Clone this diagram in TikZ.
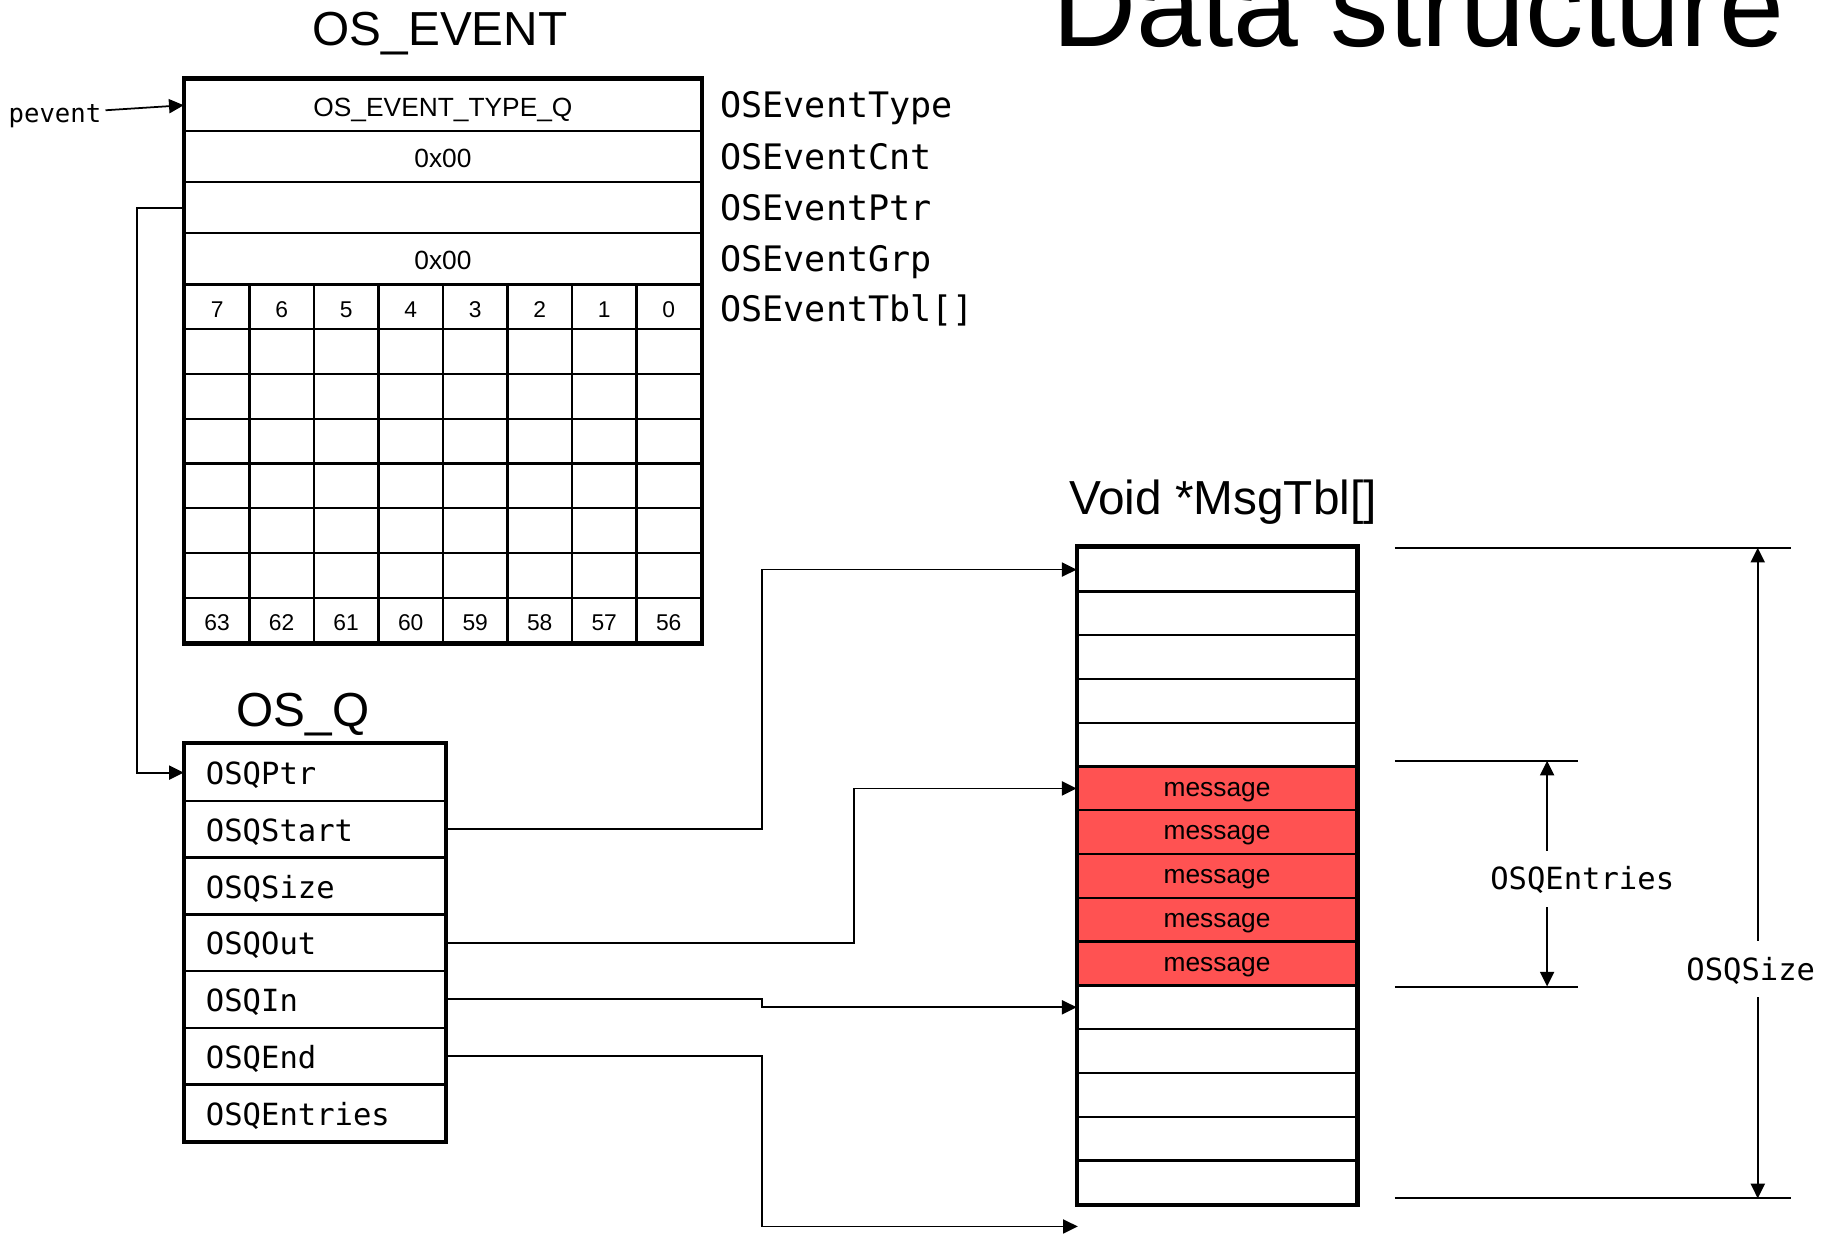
\documentclass[tikz,border=0pt]{standalone}
\usepackage{fontspec}
\setmainfont{Liberation Sans}
\newfontfamily\fieldfont{DejaVu Sans Mono}
\usetikzlibrary{arrows.meta}
\definecolor{msgred}{RGB}{255,82,82}
\tikzset{
	boxline/.style={line width=1.2pt},
	cellline/.style={line width=0.65pt},
	link/.style={line width=0.5pt, -{Triangle[length=4.2pt, width=4pt]}},
	dimline/.style={line width=0.6pt},
	dimarrow/.style={line width=0.6pt, -{Triangle[length=4.2pt, width=4pt]}},
	headline/.style={font=\fontsize{13.6}{16}\selectfont, inner sep=0pt, anchor=base},
	evrow/.style={draw, cellline, minimum width=147pt, minimum height=14.583pt, inner sep=0pt,
		text height=6.3pt, text depth=0pt, font=\fontsize{7.5}{9}\selectfont},
	bitcell/.style={draw, cellline, minimum width=18.375pt, minimum height=12.75pt, inner sep=0pt,
		text height=6pt, text depth=0pt, font=\fontsize{6.5}{8}\selectfont},
	qrow/.style={draw, cellline, minimum width=74pt, minimum height=16.143pt, inner xsep=6pt, inner ysep=0pt,
		text width=62pt, align=left, text height=7pt, text depth=0pt, font=\fieldfont\fontsize{8.7}{10}\selectfont},
	msgrow/.style={draw, cellline, minimum width=79.33pt, minimum height=12.467pt, inner sep=0pt,
		text height=5.4pt, text depth=1pt, font=\fontsize{7.5}{9}\selectfont},
	fieldname/.style={inner sep=0pt, anchor=base west, font=\fieldfont\fontsize{10}{12}\selectfont},
	dimlabel/.style={inner xsep=0pt, inner ysep=4.7pt, text height=6.3pt, text depth=0pt,
		font=\fieldfont\fontsize{8.7}{10}\selectfont}
}
\begin{document}
\begin{tikzpicture}[x=0.33333pt, y=-0.33333pt]
	\useasboundingbox (0,0) rectangle (1568,1054);
	\clip (0,0) rectangle (1568,1054);
	\node[font=\fontsize{33.2}{40}\selectfont, inner sep=0pt, anchor=base] (maintitle) at (1212,40) {Data structure};
	\node[headline] (etitle) at (376,39) {OS\_EVENT};
	\node[evrow] (etype) at (378.5,89.9) {OS\_EVENT\_TYPE\_Q};
	\node[evrow] (ecnt) at (378.5,133.6) {0x00};
	\node[evrow] (eptr) at (378.5,177.4) {};
	\node[evrow] (egrp) at (378.5,221.1) {0x00};
	\foreach \r in {1,...,6}
		\foreach \c in {0,...,7}
			\node[bitcell] (bit\r\c) at ({185.56+55.125*\c},{262.13+38.25*\r}) {};
	\foreach \c in {0,...,7} {
		\pgfmathtruncatemacro{\lo}{7-\c}
		\pgfmathtruncatemacro{\hi}{63-\c}
		\node[bitcell] (bit0\c) at ({185.56+55.125*\c},262.13) {\lo};
		\node[bitcell] (bit7\c) at ({185.56+55.125*\c},529.88) {\hi};
	}
	\draw[boxline] (etype.north west) rectangle (bit77.south east);
	\node[fieldname] (ntype) at (615,100.8) {OSEventType};
	\node[fieldname] (ncnt) at (615,144.5) {OSEventCnt};
	\node[fieldname] (nptr) at (615,188.3) {OSEventPtr};
	\node[fieldname] (ngrp) at (615,232) {OSEventGrp};
	\node[fieldname] (ntbl) at (615,274.5) {OSEventTbl[]};
	\node[inner sep=1pt, font=\fieldfont\fontsize{7.3}{9}\selectfont] (pevent) at (47,99) {pevent};
	\draw[link] ([yshift=1.6pt]pevent.east) -- (etype.west);
	\node[headline] (qtitle) at (259,621) {OS\_Q};
	\node[qrow] (qptr) at (269,660.2) {OSQPtr};
	\node[qrow] (qstart) at (269,708.6) {OSQStart};
	\node[qrow] (qsize) at (269,757.1) {OSQSize};
	\node[qrow] (qout) at (269,805.5) {OSQOut};
	\node[qrow] (qin) at (269,853.9) {OSQIn};
	\node[qrow] (qend) at (269,902.4) {OSQEnd};
	\node[qrow] (qentries) at (269,950.8) {OSQEntries};
	\draw[boxline] (qptr.north west) rectangle (qentries.south east);
	\draw[link] (eptr.west) -- ++(-40,0) |- (qptr.west);
	\node[headline] (mtitle) at (1045,440) {Void *MsgTbl[]};
	\foreach \i in {1,...,5,11,12,...,15}
		\node[msgrow] (msg\i) at (1040,{449.3+37.4*\i}) {};
	\foreach \i in {6,...,10}
		\node[msgrow, fill=msgred] (msg\i) at (1040,{449.3+37.4*\i}) {message};
	\draw[boxline] (msg1.north west) rectangle (msg15.south east);
	\coordinate (qtail) at (921,1048);
	\draw[link] (qstart.east) -- ++(270,0) |- (msg1.west);
	\draw[link] (qout.east) -- ++(349,0) |- (msg6.west);
	\draw[link] (qin.east) -- ++(270,0) |- (msg11.west);
	\draw[link] (qend.east) -- ++(270,0) |- (qtail);
	\draw[dimline] (1192,468) -- (1530,468);
	\draw[dimline] (1192,1024) -- (1530,1024);
	\draw[dimline] (1192,650) -- (1348,650);
	\draw[dimline] (1192,843) -- (1348,843);
	\coordinate (sizetop) at (1502,468);
	\coordinate (sizebot) at (1502,1024);
	\coordinate (enttop) at (1322,650);
	\coordinate (entbot) at (1322,843);
	\node[dimlabel] (lsize) at (1496,828) {OSQSize};
	\node[dimlabel] (lentries) at (1352,751) {OSQEntries};
	\draw[dimarrow] (lsize.north -| sizetop) -- (sizetop);
	\draw[dimarrow] (lsize.south -| sizetop) -- (sizebot);
	\draw[dimarrow] (lentries.north -| enttop) -- (enttop);
	\draw[dimarrow] (lentries.south -| enttop) -- (entbot);
\end{tikzpicture}
\end{document}
